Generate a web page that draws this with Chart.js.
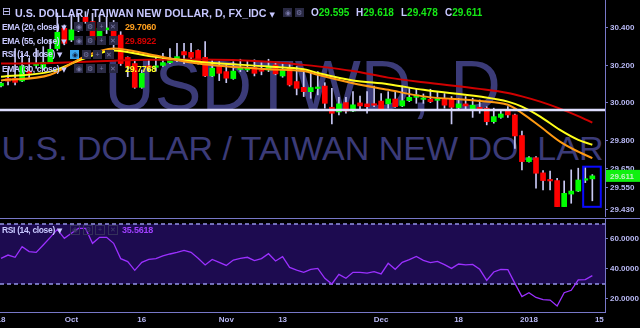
<!DOCTYPE html>
<html>
<head>
<meta charset="utf-8">
<title>USDTWD daily</title>
<script src="https://cdn.jsdelivr.net/npm/chart.js@4.4.1/dist/chart.umd.min.js"></script>
<style>
  html, body { margin: 0; padding: 0; background: #000; }
  body { position: relative; width: 640px; height: 328px; overflow: hidden;
         font-family: 'Liberation Sans', Arial, sans-serif; }
  .abs { position: absolute; white-space: nowrap; }
  .wm { position: absolute; left: 0; width: 605px; text-align: center; color: #3b3b78; white-space: nowrap; }
  #wm1 { font-size: 70px; line-height: 70px; top: 51px; }
  #wm2 { font-size: 34px; line-height: 34px; top: 131px; }
  #price { position: absolute; left: 0; top: 0; }
  #rsi { position: absolute; left: 0; top: 217px; }
  #sep { position: absolute; left: 0; top: 218px; width: 640px; height: 1px; background: #7878c8; }
  .title { font-size: 10.7px; font-weight: bold; color: #c8c8ff; line-height: 12px; }
  .lg { font-size: 8.5px; font-weight: bold; color: #c8c8ff; line-height: 12px; letter-spacing: -0.35px; }
  .val { font-size: 9px; font-weight: bold; line-height: 12px; letter-spacing: -0.2px; }
  .up { color: #16e816; }
  .ic { display: inline-block; width: 9px; height: 9px; margin-right: 2.5px; background: #2a2a44;
        color: #7878a8; font-size: 7px; line-height: 9px; text-align: center; vertical-align: top; }
  .ic.on { background: #3aa4f0; color: #102040; }
  .ic.faint { background: transparent; border: 1px solid #34305a; width: 8px; height: 8px; line-height: 8px; color: #40406a; }
  .arrow { font-size: 7px; font-family: 'DejaVu Sans', sans-serif; }
</style>
</head>
<body>
<div class="wm" id="wm1">USDTWD, D</div>
<div class="wm" id="wm2">U.S. DOLLAR / TAIWAN NEW DOLLAR</div>
<canvas id="price" width="640" height="217"></canvas>
<div id="sep"></div>
<canvas id="rsi" width="640" height="111"></canvas>

<div class="abs title" style="left:2px;top:6px;font-weight:normal;font-family:'DejaVu Sans',sans-serif;font-size:11px">⊟</div>
<div class="abs title" style="left:15px;top:7px">U.S. DOLLAR / TAIWAN NEW DOLLAR, D, FX_IDC <span class="arrow">▼</span></div>
<div class="abs" style="left:283px;top:8px"><span class="ic">◉</span><span class="ic">⚙</span></div>
<div class="abs title" style="left:311px;top:7px;font-size:10px">O<span class="up">29.595</span></div>
<div class="abs title" style="left:356px;top:7px;font-size:10px">H<span class="up">29.618</span></div>
<div class="abs title" style="left:401px;top:7px;font-size:10px">L<span class="up">29.478</span></div>
<div class="abs title" style="left:445px;top:7px;font-size:10px">C<span class="up">29.611</span></div>

<div class="abs lg" style="left:2px;top:20.7px">EMA (20, close) <span class="arrow">▼</span></div>
<div class="abs" style="left:74px;top:22px"><span class="ic">◉</span><span class="ic">⚙</span><span class="ic">+</span><span class="ic">✕</span></div>
<div class="abs val" style="left:125px;top:20.7px;color:#ffa01e">29.7060</div>

<div class="abs lg" style="left:2px;top:34.8px">EMA (55, close) <span class="arrow">▼</span></div>
<div class="abs" style="left:74px;top:36px"><span class="ic">◉</span><span class="ic">⚙</span><span class="ic">+</span><span class="ic">✕</span></div>
<div class="abs val" style="left:125px;top:34.8px;color:#d40000">29.8922</div>

<div class="abs lg" style="left:2px;top:48.3px">RSI (14, close) <span class="arrow">▼</span></div>
<div class="abs" style="left:70px;top:49.5px"><span class="ic on">◉</span><span class="ic">⚙</span><span class="ic">+</span><span class="ic">✕</span></div>

<div class="abs lg" style="left:2px;top:62.7px">EMA (30, close) <span class="arrow">▼</span></div>
<div class="abs" style="left:74px;top:64px"><span class="ic">◉</span><span class="ic">⚙</span><span class="ic">+</span><span class="ic">✕</span></div>
<div class="abs val" style="left:125px;top:62.7px;color:#ffff20">29.7768</div>

<div class="abs lg" style="left:2px;top:224px">RSI (14, close) <span class="arrow">▼</span></div>
<div class="abs" style="left:70px;top:225px"><span class="ic faint">◉</span><span class="ic faint">⚙</span><span class="ic faint">+</span><span class="ic faint">✕</span></div>
<div class="abs val" style="left:122px;top:224px;color:#a040ff">35.5618</div>

<script>
// one candle per weekday, Sep 18 2017 (index 0) .. Jan 12 2018 (index 84)
const openP = [30.091, 30.13, 30.131, 30.117, 30.17, 30.2, 30.185, 30.215, 30.29, 30.398,
  30.336, 30.39, 30.457, 30.434, 30.354, 30.39, 30.398, 30.362, 30.243, 30.21,
  30.083, 30.195, 30.19, 30.2, 30.215, 30.23, 30.274, 30.27, 30.28, 30.243,
  30.144, 30.197, 30.167, 30.13, 30.178, 30.176, 30.19, 30.176, 30.176, 30.203,
  30.144, 30.185, 30.114, 30.083, 30.06, 30.077, 30.09, 29.977, 29.952, 30.002,
  29.957, 30.0, 29.995, 29.99, 30.01, 29.995, 30.021, 29.984, 30.012, 30.03,
  30.019, 30.02, 30.014, 30.021, 30.019, 29.975, 29.995, 29.966, 29.977, 29.972,
  29.9, 29.923, 29.966, 29.936, 29.826, 29.687, 29.708, 29.627, 29.588, 29.586,
  29.447, 29.514, 29.53, 29.588, 29.595];
const highP = [30.11, 30.185, 30.29, 30.265, 30.238, 30.29, 30.30, 30.336, 30.48, 30.416,
  30.47, 30.478, 30.487, 30.478, 30.47, 30.46, 30.44, 30.38, 30.246, 30.23,
  30.176, 30.23, 30.25, 30.265, 30.29, 30.318, 30.318, 30.318, 30.283, 30.327,
  30.23, 30.22, 30.203, 30.22, 30.233, 30.226, 30.23, 30.215, 30.233, 30.212,
  30.215, 30.212, 30.194, 30.167, 30.17, 30.167, 30.108, 30.078, 30.03, 30.03,
  30.06, 30.037, 30.06, 30.09, 30.05, 30.06, 30.06, 30.09, 30.083, 30.073,
  30.048, 30.073, 30.06, 30.05, 30.034, 30.025, 30.034, 30.025, 30.016, 29.98,
  29.972, 29.963, 29.98, 29.941, 29.85, 29.714, 29.714, 29.639, 29.637, 29.598,
  29.584, 29.643, 29.652, 29.66, 29.618];
const lowP = [30.085, 30.096, 30.096, 30.114, 30.131, 30.185, 30.176, 30.21, 30.28, 30.31,
  30.327, 30.38, 30.425, 30.327, 30.345, 30.37, 30.28, 30.2, 30.14, 30.078,
  30.078, 30.167, 30.17, 30.195, 30.21, 30.22, 30.21, 30.23, 30.207, 30.14,
  30.14, 30.119, 30.108, 30.126, 30.167, 30.167, 30.144, 30.15, 30.167, 30.15,
  30.137, 30.09, 30.043, 30.034, 30.025, 30.043, 29.972, 29.888, 29.936, 29.945,
  29.954, 29.963, 29.945, 29.98, 29.963, 29.972, 29.977, 29.98, 30.007, 29.998,
  29.998, 30.002, 29.966, 29.972, 29.888, 29.963, 29.963, 29.923, 29.945, 29.883,
  29.892, 29.918, 29.923, 29.758, 29.643, 29.684, 29.545, 29.536, 29.536, 29.447,
  29.447, 29.465, 29.527, 29.575, 29.478];
const closeP = [30.105, 30.116, 30.11, 30.197, 30.158, 30.205, 30.217, 30.286, 30.377, 30.318,
  30.39, 30.428, 30.434, 30.336, 30.398, 30.40, 30.357, 30.21, 30.195, 30.083,
  30.158, 30.19, 30.195, 30.215, 30.233, 30.247, 30.256, 30.243, 30.21, 30.144,
  30.185, 30.158, 30.132, 30.17, 30.182, 30.19, 30.158, 30.169, 30.197, 30.155,
  30.18, 30.096, 30.078, 30.06, 30.082, 30.083, 29.998, 29.945, 29.995, 29.957,
  29.99, 29.984, 29.98, 29.988, 29.966, 30.021, 29.98, 30.012, 30.03, 30.043,
  30.021, 30.007, 30.017, 29.988, 29.977, 29.995, 29.984, 29.988, 29.966, 29.9,
  29.927, 29.941, 29.936, 29.824, 29.687, 29.708, 29.625, 29.586, 29.584, 29.447,
  29.518, 29.53, 29.589, 29.593, 29.611];
const rsiVals = [47.1, 49.3, 47.8, 54.9, 51.6, 51.1, 56.0, 61.1, 66.4, 60.4,
  63.8, 67.1, 67.1, 57.1, 61.1, 61.1, 57.1, 46.9, 44.9, 39.1,
  44.4, 46.4, 46.9, 48.7, 50.0, 51.1, 52.4, 51.1, 47.1, 42.7,
  46.4, 44.4, 42.4, 46.0, 47.1, 47.8, 45.6, 46.9, 50.2, 45.3,
  48.2, 41.1, 39.3, 37.8, 39.8, 40.4, 33.8, 30.0, 36.4, 33.8,
  37.8, 37.8, 37.3, 38.2, 36.7, 43.8, 39.8, 44.4, 46.2, 48.4,
  45.8, 44.2, 45.1, 42.9, 40.4, 43.3, 42.7, 43.1, 39.8, 32.4,
  38.0, 39.8, 39.6, 30.4, 21.6, 24.2, 21.0, 19.6, 19.3, 15.3,
  24.2, 25.8, 32.7, 32.9, 35.56];

// moving averages at these bar positions
const emaIdx = [0, 7, 12, 16, 21, 28, 38, 43, 45, 50, 55, 60, 68, 72, 74, 76.6, 79.4, 82, 84];
const ema20 = [30.12, 30.15, 30.25, 30.29, 30.26, 30.21, 30.18, 30.17, 30.15, 30.105,
  30.07, 30.035, 30.01, 29.99, 29.946, 29.874, 29.794, 29.74, 29.706];
const ema30 = [30.14, 30.167, 30.24, 30.28, 30.25, 30.22, 30.194, 30.18, 30.16, 30.12,
  30.1, 30.07, 30.034, 30.007, 29.98, 29.927, 29.856, 29.803, 29.777];
const ema55 = [30.21, 30.213, 30.22, 30.225, 30.23, 30.232, 30.22, 30.203, 30.195, 30.17,
  30.135, 30.11, 30.075, 30.053, 30.035, 30.007, 29.97, 29.93, 29.895];

const priceTicks = [30.4, 30.2, 30.0, 29.8, 29.65, 29.55, 29.43];
const rsiTicks = [20, 40, 60];
const rsiBands = [70, 30];
const xTickIdx = [0, 10, 20, 32, 40, 54, 65, 75, 85];
const xTickText = ['18', 'Oct', '16', 'Nov', '13', 'Dec', '18', '2018', '15'];
const supportLevel = 29.963;
const boxX = [82.7, 85.2];
const boxY = [29.446, 29.66];

const xMin = -0.142, xMax = 85.8;
const axisCol = '#7878c8';
const labelCol = '#b8b8f4';

Chart.defaults.font.family = "'Liberation Sans', Arial, sans-serif";

const days = openP.map((_, i) => i);
const bodyCols = days.map(i => (closeP[i] >= openP[i] ? '#00ff00' : '#ff0000'));

// fixed axis sizes so both panels share the same x pixels
const fixAxis = (w, h) => (scale) => {
  if (w) scale.width = w;
  if (h) scale.height = h;
  scale.paddingLeft = 0;
  scale.paddingRight = 0;
  scale.paddingTop = 0;
  scale.paddingBottom = 0;
};

const emaLine = (vals, color) => ({
  type: 'line',
  data: emaIdx.map((x, k) => ({ x, y: vals[k] })),
  borderColor: color,
  borderWidth: 2,
  pointRadius: 0,
  cubicInterpolationMode: 'monotone',
  order: 0,
});

const priceMarks = {
  id: 'priceMarks',
  afterDatasetsDraw(chart) {
    const { ctx, chartArea: a, scales: { x, y } } = chart;
    ctx.save();
    const ly = y.getPixelForValue(supportLevel);
    ctx.strokeStyle = '#dedeff';
    ctx.lineWidth = 2.5;
    ctx.beginPath();
    ctx.moveTo(a.left, ly);
    ctx.lineTo(a.right, ly);
    ctx.stroke();
    const bx0 = x.getPixelForValue(boxX[0]), bx1 = x.getPixelForValue(boxX[1]);
    const by0 = y.getPixelForValue(boxY[1]), by1 = y.getPixelForValue(boxY[0]);
    ctx.strokeStyle = '#0a0aff';
    ctx.lineWidth = 2;
    ctx.strokeRect(bx0, by0, bx1 - bx0, by1 - by0);
    ctx.restore();
  },
  afterDraw(chart) {
    const { ctx, chartArea: a, scales: { y } } = chart;
    const last = closeP[closeP.length - 1];
    const py = y.getPixelForValue(last);
    ctx.save();
    ctx.fillStyle = '#10f010';
    ctx.fillRect(a.right + 1, py - 6, chart.width - a.right - 1, 12);
    ctx.fillStyle = '#c8f0c8';
    ctx.font = "bold 8px 'Liberation Sans', Arial, sans-serif";
    ctx.textBaseline = 'middle';
    ctx.fillText(last.toFixed(3), a.right + 5, py + 0.5);
    ctx.restore();
  },
};

const rsiBand = {
  id: 'rsiBand',
  beforeDatasetsDraw(chart) {
    const { ctx, chartArea: a, scales: { y } } = chart;
    const yTop = y.getPixelForValue(rsiBands[0]);
    const yBot = y.getPixelForValue(rsiBands[1]);
    ctx.save();
    ctx.fillStyle = '#1d0b50';
    ctx.fillRect(a.left, yTop, a.right - a.left, yBot - yTop);
    ctx.strokeStyle = '#9494e8';
    ctx.lineWidth = 1.5;
    ctx.setLineDash([4, 3]);
    [yTop, yBot].forEach((py) => {
      ctx.beginPath();
      ctx.moveTo(a.left, py);
      ctx.lineTo(a.right, py);
      ctx.stroke();
    });
    ctx.restore();
  },
};

const rightAxis = (min, max, ticks, digits) => ({
  position: 'right',
  min,
  max,
  afterFit: fixAxis(35, 0),
  afterBuildTicks: (s) => { s.ticks = ticks.map((v) => ({ value: v })); },
  grid: { display: true, drawOnChartArea: false, drawTicks: true, tickLength: 3, color: axisCol },
  border: { display: true, color: axisCol },
  ticks: {
    autoSkip: false,
    padding: 2,
    color: labelCol,
    font: { size: 8, weight: 'bold' },
    callback: (v) => Number(v).toFixed(digits),
  },
});

new Chart(document.getElementById('price'), {
  type: 'bar',
  data: {
    datasets: [
      emaLine(ema20, '#ff9a12'),
      emaLine(ema30, '#ffff1a'),
      emaLine(ema55, '#d00000'),
      {
        data: days.map((i) => ({ x: i, y: [openP[i], closeP[i]] })),
        backgroundColor: bodyCols,
        barThickness: 5,
        minBarLength: 1.5,
        grouped: false,
        order: 1,
      },
      {
        data: days.map((i) => ({ x: i, y: [lowP[i], highP[i]] })),
        backgroundColor: '#c8c8f4',
        barThickness: 1,
        grouped: false,
        order: 2,
      },
    ],
  },
  options: {
    responsive: false,
    animation: false,
    layout: { padding: { top: 0, bottom: 1, left: 0, right: 0 } },
    plugins: { legend: { display: false }, tooltip: { enabled: false } },
    scales: {
      x: { type: 'linear', min: xMin, max: xMax, offset: false, display: false },
      y: rightAxis(29.397, 30.549, priceTicks, 3),
    },
  },
  plugins: [priceMarks],
});

new Chart(document.getElementById('rsi'), {
  type: 'line',
  data: {
    datasets: [{
      data: days.map((i) => ({ x: i, y: rsiVals[i] })),
      borderColor: '#9b30ff',
      borderWidth: 1.3,
      pointRadius: 0,
      tension: 0,
    }],
  },
  options: {
    responsive: false,
    animation: false,
    layout: { padding: { top: 2, bottom: 0, left: 0, right: 0 } },
    plugins: { legend: { display: false }, tooltip: { enabled: false } },
    scales: {
      x: {
        type: 'linear',
        min: xMin,
        max: xMax,
        offset: false,
        afterFit: fixAxis(0, 16),
        afterBuildTicks: (s) => { s.ticks = xTickIdx.map((v) => ({ value: v })); },
        grid: { display: true, drawOnChartArea: false, drawTicks: false },
        border: { display: true, color: axisCol },
        ticks: {
          autoSkip: false,
          maxRotation: 0,
          padding: 3,
          color: labelCol,
          font: { size: 8, weight: 'bold' },
          callback: (v) => xTickText[xTickIdx.indexOf(v)],
        },
      },
      y: rightAxis(11.33, 73.33, rsiTicks, 4),
    },
  },
  plugins: [rsiBand],
});
</script>
</body>
</html>
